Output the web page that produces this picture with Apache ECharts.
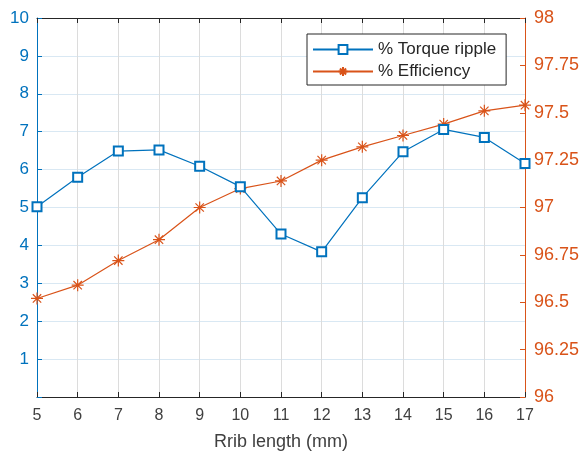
<!DOCTYPE html>
<html>
<head>
<meta charset="utf-8">
<script src="https://cdn.jsdelivr.net/npm/echarts@6/dist/echarts.min.js"></script>
<style>
  html, body { margin: 0; padding: 0; background: #fff; }
  #main { width: 587px; height: 462px; }
</style>
</head>
<body>
<div id="main"></div>
<script>
// rib length (mm)
const ribLength = [5, 6, 7, 8, 9, 10, 11, 12, 13, 14, 15, 16, 17];
// % torque ripple (left axis)
const torqueRipple = [5.02, 5.80, 6.49, 6.52, 6.09, 5.55, 4.30, 3.83, 5.26, 6.47, 7.06, 6.85, 6.16];
// % efficiency (right axis)
const efficiency = [96.52, 96.59, 96.72, 96.83, 97.0, 97.10, 97.14, 97.25, 97.32, 97.38, 97.44, 97.51, 97.54];

const BLUE = '#0072BD';
const ORANGE = '#D95319';
const FONT = 'Liberation Sans';

const star = 'path://M0,5L10,5M5,0L5,10M1.5,1.5L8.5,8.5M1.5,8.5L8.5,1.5';

const chart = echarts.init(document.getElementById('main'));

chart.setOption({
  animation: false,
  textStyle: { fontFamily: FONT },
  grid: { left: 37, right: 62, top: 18, bottom: 65 },
  legend: {
    orient: 'vertical',
    left: 307,
    top: 34,
    padding: [7, 10, 5, 5],
    itemGap: 5,
    itemWidth: 60,
    itemHeight: 11,
    backgroundColor: '#fff',
    borderColor: '#262626',
    borderWidth: 1,
    borderRadius: 0,
    textStyle: { fontFamily: FONT, fontSize: 17, color: '#262626' },
    data: ['% Torque ripple', '% Efficiency']
  },
  xAxis: [{
    type: 'value',
    min: 5, max: 17, interval: 1,
    name: 'Rrib length (mm)',
    nameLocation: 'middle',
    nameGap: 36,
    nameTextStyle: { fontSize: 18, color: '#404040', fontFamily: FONT },
    axisLine: { lineStyle: { color: '#262626' } },
    axisTick: { inside: true, length: 5, lineStyle: { color: '#262626' } },
    axisLabel: { fontSize: 16, color: '#404040', margin: 11, fontFamily: FONT },
    splitLine: { show: true, lineStyle: { color: '#dcdcdc' } }
  }, {
    type: 'value',
    position: 'top',
    min: 5, max: 17, interval: 1,
    axisLine: { show: true, lineStyle: { color: '#262626' } },
    axisTick: { show: true, inside: true, length: 5, lineStyle: { color: '#262626' } },
    axisLabel: { show: false },
    splitLine: { show: false }
  }],
  yAxis: [{
    type: 'value',
    min: 0, max: 10, interval: 1,
    axisLine: { show: true, lineStyle: { color: BLUE } },
    axisTick: { show: true, inside: true, length: 5, lineStyle: { color: BLUE } },
    axisLabel: {
      fontSize: 17, color: BLUE, margin: 8, fontFamily: FONT,
      formatter: v => (v === 0 ? '' : String(v))
    },
    splitLine: { show: true, lineStyle: { color: '#d9e8f3' } }
  }, {
    type: 'value',
    min: 96, max: 98, interval: 0.25,
    position: 'right',
    axisLine: { show: true, lineStyle: { color: ORANGE } },
    axisTick: { show: true, inside: true, length: 5, lineStyle: { color: ORANGE } },
    axisLabel: { fontSize: 18, color: ORANGE, margin: 9, fontFamily: FONT },
    splitLine: { show: false }
  }],
  series: [{
    name: '% Torque ripple',
    type: 'line',
    xAxisIndex: 0,
    yAxisIndex: 0,
    data: ribLength.map((x, i) => [x, torqueRipple[i]]),
    symbol: 'emptyRect',
    symbolSize: 9,
    showAllSymbol: true,
    color: BLUE,
    lineStyle: { color: BLUE, width: 1.2 },
    itemStyle: { color: BLUE, borderColor: BLUE, borderWidth: 1.2 },
    z: 3
  }, {
    name: '% Efficiency',
    type: 'line',
    xAxisIndex: 0,
    yAxisIndex: 1,
    data: ribLength.map((x, i) => [x, efficiency[i]]),
    symbol: star,
    symbolSize: 12,
    showAllSymbol: true,
    color: ORANGE,
    lineStyle: { color: ORANGE, width: 1.2 },
    itemStyle: { color: ORANGE, borderColor: ORANGE, borderWidth: 1.2 },
    z: 2
  }]
});
</script>
</body>
</html>
